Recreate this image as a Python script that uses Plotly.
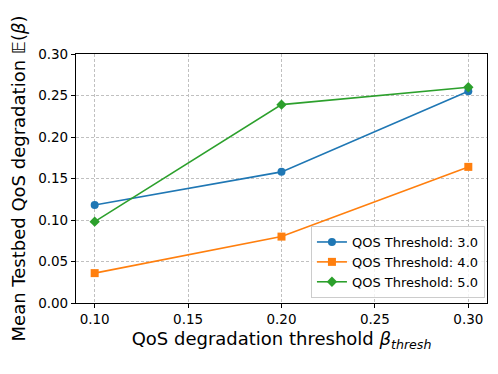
import plotly.graph_objects as go

# Data
thresholds = [0.10, 0.20, 0.30]
qos_3 = [0.118, 0.158, 0.255]
qos_4 = [0.036, 0.080, 0.164]
qos_5 = [0.098, 0.239, 0.260]

series = [
    ('QOS Threshold: 3.0', qos_3, '#1f77b4', 'circle'),
    ('QOS Threshold: 4.0', qos_4, '#ff7f0e', 'square'),
    ('QOS Threshold: 5.0', qos_5, '#2ca02c', 'diamond'),
]

fig = go.Figure()
for name, vals, col, sym in series:
    fig.add_trace(go.Scatter(
        x=thresholds, y=vals, name=name,
        mode='lines+markers',
        line=dict(color=col, width=1.6),
        marker=dict(color=col, symbol=sym, size=8)))

axis_common = dict(
    showline=True, linecolor='black', linewidth=1.2, mirror=True,
    ticks='outside', ticklen=4, tickcolor='black', automargin=False,
    showgrid=True, gridcolor='#c0c0c0', griddash='3px,2px', gridwidth=0.8,
    zeroline=False, tickfont=dict(size=13.5, color='black'))

# page body adds an 8px offset, margins account for it
fig.update_layout(
    width=498, height=374,
    plot_bgcolor='white', paper_bgcolor='white',
    font=dict(family='DejaVu Sans', color='black'),
    margin=dict(l=68, r=19, t=46, b=79),
    xaxis=dict(axis_common, range=[0.09, 0.31], tickvals=[0.10, 0.15, 0.20, 0.25, 0.30],
               ticktext=['0.10', '0.15', '0.20', '0.25', '0.30'],
               title=dict(text='QoS degradation threshold <i>β<sub>thresh</sub></i>',
                          font=dict(size=18), standoff=6)),
    yaxis=dict(axis_common, range=[0, 0.30], tickvals=[0, 0.05, 0.10, 0.15, 0.20, 0.25, 0.30],
               ticktext=['0.00', '0.05', '0.10', '0.15', '0.20', '0.25', '0.30'],
               title=dict(text='Mean Testbed QoS degradation 𝔼(<i>β</i>)',
                          font=dict(size=18), standoff=8)),
    legend=dict(x=0.995, y=0.02, xanchor='right', yanchor='bottom',
                bordercolor='#cccccc', borderwidth=1, bgcolor='rgba(255,255,255,0.8)',
                font=dict(size=13), tracegroupgap=0, itemwidth=30),
    showlegend=True)

fig.write_html('out.html')
